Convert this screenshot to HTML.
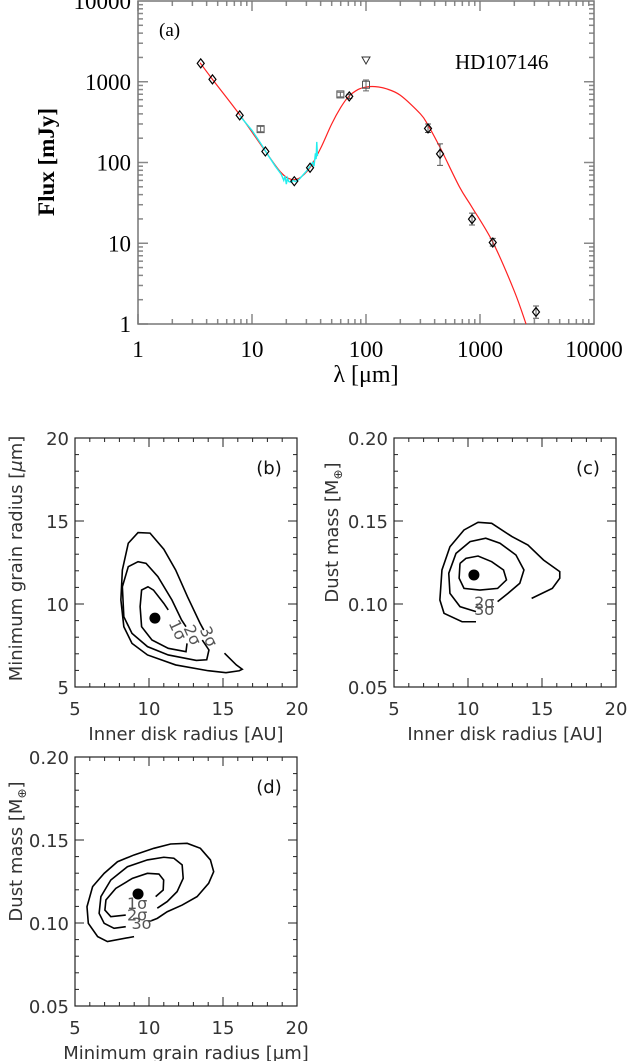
<!DOCTYPE html>
<html><head><meta charset="utf-8">
<style>
body{margin:0;background:#fff;width:627px;height:1061px;overflow:hidden}
svg{display:block}
.serif{font-family:"Liberation Serif",serif}
.sans{font-family:"DejaVu Sans","Liberation Sans",sans-serif}
</style></head><body>
<svg id="fig" width="627" height="1061" viewBox="0 0 627 1061" xmlns="http://www.w3.org/2000/svg"></svg>
<script>
// ---------- Panel (a) data ----------
const diamondLam = [3.55, 4.5, 7.8, 13.1, 23.5, 32.3, 71.3, 350, 446, 851, 1294, 3100];
const diamondFlux = [1690, 1070, 383, 137, 58.7, 86, 658, 264, 128, 19.9, 10.2, 1.41];
const diamondErrLo = [1690, 1070, 383, 137, 58.7, 86, 620, 235, 92, 16.8, 9.2, 1.18];
const diamondErrHi = [1690, 1070, 383, 137, 58.7, 86, 700, 300, 170, 23.6, 11.5, 1.67];
const squareLam = [11.9, 59.6, 100];
const squareFlux = [259, 697, 918];
const squareErrLo = [240, 650, 770];
const squareErrHi = [280, 740, 1050];
const ulLam = [100];
const ulFlux = [1857];
const modelLam = [3.5, 4.5, 7.8, 13, 18, 22, 26, 32, 40, 50, 60, 70, 85, 100, 120, 150, 200, 300, 350, 450, 660, 850, 1300, 2000, 2534];
const modelFlux = [1720, 1070, 390, 140, 75, 62, 64, 85, 150, 300, 480, 650, 800, 860, 870, 820, 680, 400, 290, 150, 50, 28, 10.2, 2.55, 1.0];
const specLam = [7.8, 10, 12, 14, 16, 18, 19, 19.5, 20, 20.5, 21, 22, 23, 24, 26, 28, 30, 32, 34, 35, 36, 36.5, 37, 37.5];
const specFlux = [380, 250, 170, 120, 90, 72, 60, 68, 54, 64, 58, 57, 60, 58, 62, 70, 78, 88, 100, 90, 130, 110, 180, 120];
const xTicksA = [1, 10, 100, 1000, 10000];
const yTicksA = [1, 10, 100, 1000, 10000];

// ---------- Panel (b) ----------
const bDot = [10.4, 9.15];
const b3 = [[13.7,8.43],[13.45,8.84],[12.6,10.44],[11.8,12.05],[11.0,13.3],[10.07,14.27],[9.26,14.3],[8.6,13.66],[8.2,12.05],[8.1,10.24],[8.3,8.63],[8.85,7.63],[9.9,6.93],[11.8,6.33],[14.0,5.98],[15.2,5.86],[16.1,5.98],[16.3,6.07],[15.9,6.33],[15.1,7.04]];
const b2 = [[13.6,7.83],[14.05,7.23],[13.9,6.64],[13.2,6.6],[11.3,6.93],[9.9,7.43],[8.85,8.23],[8.3,9.23],[8.2,11.04],[8.6,12.25],[9.26,12.55],[9.8,12.45],[10.6,11.65],[11.55,10.24],[12.2,9.04],[12.5,8.63]];
const b1 = [[12.57,7.63],[12.5,7.13],[11.3,7.33],[10.2,7.83],[9.5,8.63],[9.4,9.84],[9.5,10.84],[9.93,11.04],[10.3,10.84],[11.0,10.04],[11.3,9.64]];
// ---------- Panel (c) ----------
const cDot = [10.4, 0.1175];
const c3 = [[14.3,0.1034],[15.7,0.1094],[16.2,0.1155],[16.2,0.1195],[15.1,0.1265],[14.05,0.1355],[12.97,0.1406],[11.6,0.1486],[10.68,0.1492],[9.73,0.1446],[8.78,0.1345],[8.24,0.1205],[8.1,0.1024],[8.38,0.0944],[9.6,0.0893],[10.54,0.0893]];
const c2 = [[12.0,0.1014],[12.7,0.1064],[13.5,0.1125],[13.78,0.1205],[13.24,0.1295],[12.16,0.1366],[11.2,0.1396],[10.14,0.1376],[9.19,0.1305],[8.7,0.1185],[8.78,0.1064],[9.46,0.0984],[10.54,0.0954]];
const c1 = [[9.46,0.1245],[9.86,0.1275],[10.68,0.1289],[11.6,0.1255],[12.4,0.1205],[12.6,0.1145],[12.0,0.1094],[10.8,0.1084],[9.73,0.1094],[9.4,0.1155],[9.46,0.1245]];
// ---------- Panel (d) ----------
const dDot = [9.26, 0.1175];
const d3 = [[10.0,0.1008],[10.56,0.1028],[11.23,0.1068],[12.24,0.1108],[13.25,0.1159],[14.03,0.1239],[14.37,0.1309],[14.15,0.138],[13.47,0.145],[12.58,0.148],[11.46,0.1476],[10.33,0.145],[8.99,0.141],[7.87,0.1369],[6.97,0.1299],[6.19,0.1219],[5.81,0.1098],[5.9,0.0998],[6.53,0.0918],[7.19,0.0888],[8.99,0.0918]];
const d2 = [[10.56,0.1089],[11.23,0.1129],[11.9,0.1189],[12.31,0.1269],[12.24,0.135],[11.68,0.139],[11.0,0.1396],[9.89,0.138],[8.54,0.1339],[7.42,0.1259],[6.75,0.1159],[6.63,0.1058],[6.97,0.0998],[7.64,0.0968],[8.43,0.0978]];
const d1 = [[10.45,0.1159],[10.96,0.1199],[10.99,0.1259],[10.67,0.1295],[9.89,0.1299],[8.88,0.1269],[7.76,0.1209],[7.09,0.1139],[7.02,0.1078],[7.42,0.1038],[8.43,0.1048]];
const linTicks = [5, 10, 15, 20];
const massTicks = [0.05, 0.10, 0.15, 0.20];
const massLabels = ["0.05", "0.10", "0.15", "0.20"];

const NS = "http://www.w3.org/2000/svg";
const svg = document.getElementById("fig");
function el(tag, attrs, parent) {
  const e = document.createElementNS(NS, tag);
  for (const k in attrs) e.setAttribute(k, attrs[k]);
  (parent || svg).appendChild(e);
  return e;
}
function txt(s, attrs, parent) { const t = el("text", attrs, parent); t.textContent = s; return t; }
// Catmull-Rom smoothing of pixel points
function smoothPath(pts) {
  let d = "M" + pts[0][0] + "," + pts[0][1];
  for (let i = 0; i < pts.length - 1; i++) {
    const p0 = pts[Math.max(0, i-1)], p1 = pts[i], p2 = pts[i+1], p3 = pts[Math.min(pts.length-1, i+2)];
    const c1x = p1[0] + (p2[0]-p0[0])/6, c1y = p1[1] + (p2[1]-p0[1])/6;
    const c2x = p2[0] - (p3[0]-p1[0])/6, c2y = p2[1] - (p3[1]-p1[1])/6;
    d += `C${c1x},${c1y} ${c2x},${c2y} ${p2[0]},${p2[1]}`;
  }
  return d;
}

// ===== Panel (a) =====
const A = {x0:138, x1:594, y0:1, y1:324};
const ax = v => A.x0 + Math.log10(v) / 4 * (A.x1 - A.x0);
const ay = v => A.y1 - Math.log10(v) / 4 * (A.y1 - A.y0);
const ga = el("g", {});


for (let d = 0; d < 4; d++) for (let m = 1; m < 10; m++) {
  const v = Math.pow(10, d) * m; const L = m === 1 ? 10 : 5;
  const x = ax(v), y = ay(v);
  el("line", {x1:x, y1:A.y1, x2:x, y2:A.y1 - L, stroke:"#888", "stroke-width":1.5}, ga);
  el("line", {x1:x, y1:A.y0, x2:x, y2:A.y0 + L, stroke:"#888", "stroke-width":1.5}, ga);
  el("line", {x1:A.x0, y1:y, x2:A.x0 + L, y2:y, stroke:"#888", "stroke-width":1.5}, ga);
  el("line", {x1:A.x1, y1:y, x2:A.x1 - L, y2:y, stroke:"#888", "stroke-width":1.5}, ga);
}
const frameA = el("rect", {x:A.x0, y:A.y0, width:A.x1-A.x0, height:A.y1-A.y0, fill:"none", stroke:"#777", "stroke-width":1.5}, ga);


xTicksA.forEach(v => {
  const t = txt(String(v), {x:ax(v), y:357, "text-anchor":"middle", "font-size":23, class:"serif"}, ga);
  
  
});
yTicksA.forEach(v => {
  const t = txt(String(v), {x:131, y:ay(v) + 8, "text-anchor":"end", "font-size":23, class:"serif"}, ga);
  
  
});
const xtA = txt("λ [μm]", {x:366, y:382, "text-anchor":"middle", "font-size":24, class:"serif"}, ga);


const ytA = txt("Flux [mJy]", {x:0, y:0, transform:"translate(54,162) rotate(-90)", "text-anchor":"middle", "font-size":23, "font-weight":"bold", class:"serif"}, ga);


const labA = txt("(a)", {x:159, y:36, "font-size":19, class:"serif"}, ga);


const star = txt("HD107146", {x:455, y:69, "font-size":21, class:"serif"}, ga);



const model = el("path", {d: smoothPath(modelLam.map((l,i)=>[ax(l), ay(modelFlux[i])])), fill:"none", stroke:"#f22", "stroke-width":1.2}, ga);


const spec = el("polyline", {points: specLam.map((l,i)=>ax(l)+","+ay(specFlux[i])).join(" "), fill:"none", stroke:"#2ee", "stroke-width":1.4}, ga);


diamondLam.forEach((l,i) => {
  const x = ax(l), y = ay(diamondFlux[i]);
  if (diamondErrHi[i] !== diamondErrLo[i]) {
    const e = el("path", {d:`M${x},${ay(diamondErrLo[i])}V${ay(diamondErrHi[i])}M${x-3},${ay(diamondErrLo[i])}h6M${x-3},${ay(diamondErrHi[i])}h6`, stroke:"#555", "stroke-width":1, fill:"none"}, ga);
    
    
  }
  const p = el("polygon", {points:`${x},${y-4.5} ${x+3.5},${y} ${x},${y+4.5} ${x-3.5},${y}`, fill:"none", stroke:"#000", "stroke-width":1.2}, ga);
  
  
});
squareLam.forEach((l,i) => {
  const x = ax(l), y = ay(squareFlux[i]);
  const e = el("path", {d:`M${x},${ay(squareErrLo[i])}V${ay(squareErrHi[i])}M${x-3},${ay(squareErrLo[i])}h6M${x-3},${ay(squareErrHi[i])}h6`, stroke:"#666", "stroke-width":1, fill:"none"}, ga);
  
  
  const r = el("rect", {x:x-3.5, y:y-3.5, width:7, height:7, fill:"none", stroke:"#555", "stroke-width":1}, ga);
  
  
});
ulLam.forEach((l,i) => {
  const x = ax(l), y = ay(ulFlux[i]);
  const t = el("polygon", {points:`${x-4},${y-3} ${x+4},${y-3} ${x},${y+4}`, fill:"none", stroke:"#333", "stroke-width":1}, ga);
  
  
});

// ===== Contour panels =====
function contourPanel(cfg) {
  const g = el("g", {});
  
  
  const sx = v => cfg.x0 + (v - 5) / 15 * (cfg.x1 - cfg.x0);
  const sy = v => cfg.y1 - (v - cfg.ymin) / (cfg.ymax - cfg.ymin) * (cfg.y1 - cfg.y0);
  const col = "#222";
  for (let i = 0; i <= 15; i++) {
    const L = i % 5 === 0 ? 9 : 4;
    const x = cfg.x0 + i / 15 * (cfg.x1 - cfg.x0);
    const y = cfg.y1 - i / 15 * (cfg.y1 - cfg.y0);
    el("line", {x1:x, y1:cfg.y1, x2:x, y2:cfg.y1-L, stroke:col, "stroke-width":1}, g);
    el("line", {x1:x, y1:cfg.y0, x2:x, y2:cfg.y0+L, stroke:col, "stroke-width":1}, g);
    el("line", {x1:cfg.x0, y1:y, x2:cfg.x0+L, y2:y, stroke:col, "stroke-width":1}, g);
    el("line", {x1:cfg.x1, y1:y, x2:cfg.x1-L, y2:y, stroke:col, "stroke-width":1}, g);
  }
  const fr = el("rect", {x:cfg.x0, y:cfg.y0, width:cfg.x1-cfg.x0, height:cfg.y1-cfg.y0, fill:"none", stroke:col, "stroke-width":1.2}, g);
  
  
  linTicks.forEach(v => {
    const t = txt(String(v), {x:sx(v), y:cfg.y1+28, "text-anchor":"middle", "font-size":18, fill:"#333", class:"sans"}, g);
    
    
  });
  cfg.yt.forEach((v,i) => {
    const t = txt(cfg.ytl[i], {x:cfg.x0-6, y:sy(v)+7, "text-anchor":"end", "font-size":18, fill:"#333", class:"sans"}, g);
    
    
  });
  const xt = txt(cfg.xtitle, {x:(cfg.x0+cfg.x1)/2, y:cfg.y1+53, "text-anchor":"middle", "font-size":18, fill:"#333", class:"sans"}, g);
  
  
  const yt = el("text", {transform:`translate(${cfg.ytx},${(cfg.y0+cfg.y1)/2 + cfg.yoff}) rotate(-90)`, "text-anchor":"middle", "font-size":18, fill:"#333", class:"sans"}, g);
  yt.innerHTML = cfg.ytitle;
  
  
  const pl = txt(cfg.label, {x:cfg.x1-28, y:cfg.y0+36, "text-anchor":"middle", "font-size":18, fill:"#111", class:"sans"}, g);
  
  
  cfg.curves.forEach((c,k) => {
    const p = el("polyline", {points:c.map(q => sx(q[0])+","+sy(q[1])).join(" "), fill:"none", stroke:"#000", "stroke-width":1.6}, g);
    
    
  });
  cfg.labels.forEach(l => {
    const t = txt(l[0], {transform:`translate(${sx(l[1])},${sy(l[2])}) rotate(${l[3]})`, "text-anchor":"middle", "font-size":16, fill:"#555", class:"sans"}, g);
    
    
  });
  const dot = el("circle", {cx:sx(cfg.dot[0]), cy:sy(cfg.dot[1]), r:5.5, fill:"#000"}, g);
  
  
}
contourPanel({name:"panel-b", x0:75, x1:297, y0:438, y1:687, ymin:5, ymax:20, yt:linTicks, ytl:linTicks.map(String),
  xtitle:"Inner disk radius [AU]", ytitle:"Minimum grain radius [<tspan font-style='italic'>μ</tspan>m]", ytx:22, yoff:-4, label:"(b)",
  curves:[b1,b2,b3], dot:bDot, labels:[["1σ",11.6,8.3,65],["2σ",12.6,8.0,65],["3σ",13.7,7.9,65]]});
contourPanel({name:"panel-c", x0:394, x1:616, y0:438, y1:687, ymin:0.05, ymax:0.20, yt:massTicks, ytl:massLabels,
  xtitle:"Inner disk radius [AU]", ytitle:"Dust mass [M<tspan font-size='12' dy='4'>⊕</tspan><tspan dy='-4'>]</tspan>", ytx:338, yoff:-30, label:"(c)",
  curves:[c1,c2,c3], dot:cDot, labels:[["2σ",11.1,0.0975,0],["3σ",11.1,0.0935,0]]});
contourPanel({name:"panel-d", x0:75, x1:297, y0:757, y1:1006, ymin:0.05, ymax:0.20, yt:massTicks, ytl:massLabels,
  xtitle:"Minimum grain radius [μm]", ytitle:"Dust mass [M<tspan font-size='12' dy='4'>⊕</tspan><tspan dy='-4'>]</tspan>", ytx:22, yoff:-30, label:"(d)",
  curves:[d1,d2,d3], dot:dDot, labels:[["1σ",9.2,0.1085,0],["2σ",9.2,0.1015,0],["3σ",9.5,0.0965,0]]});
</script>
</body></html>
